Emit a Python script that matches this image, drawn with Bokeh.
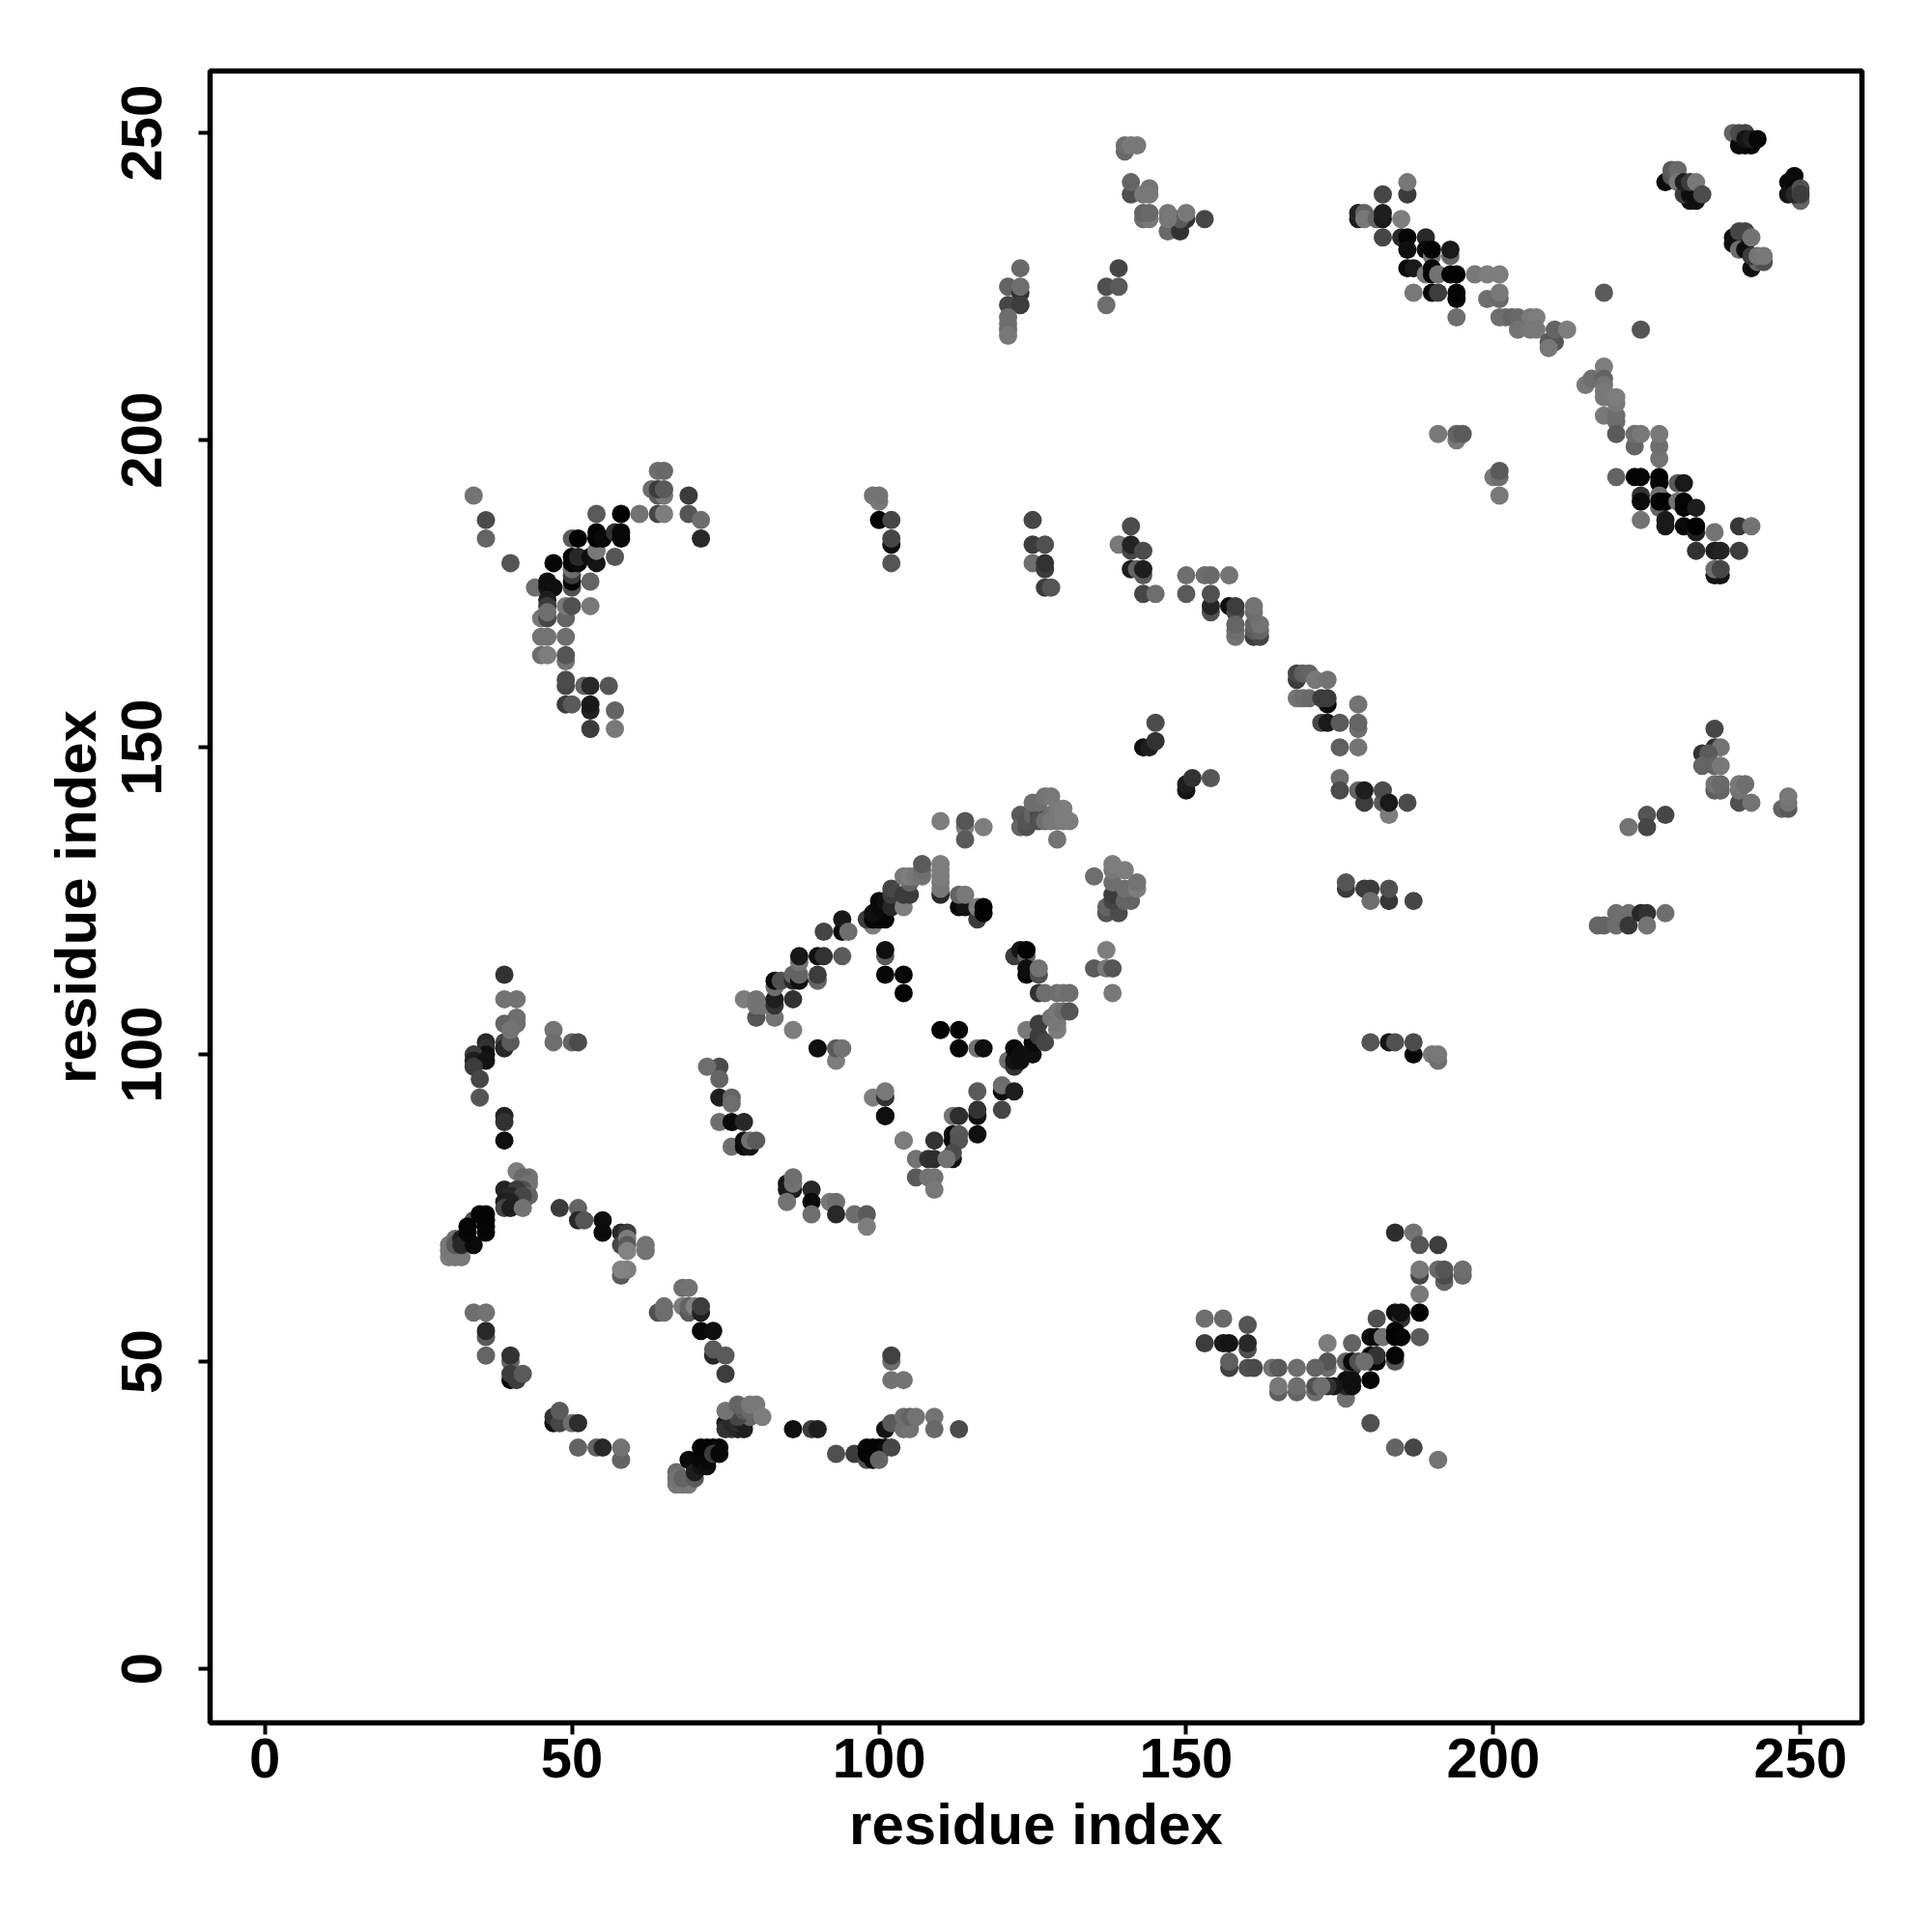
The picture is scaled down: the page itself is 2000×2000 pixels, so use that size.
from bokeh.embed import file_html
from bokeh.models import Range1d, FixedTicker
from bokeh.plotting import figure
from bokeh.resources import INLINE

# each point: (residue x, residue y, grey level)
c_39_86 = [(39,90,35),(39,89,50),(39,86,15),(41,81,125),(43,80,115),(42,80,105),(43,79,115),(42,78,80),(39,78,35),(41,78,60),(43,77,100),(40,77,40),(42,77,70),(39,76,30),(40,76,35),(39,75,70),(40,75,30),(42,75,115)]
c_34_113 = [(39,113,50),(39,109,115),(41,109,115),(41,106,110),(39,105,100),(41,105,110),(39,102,70),(36,102,40),(36,101,50),(36,100,15),(34,100,60),(34,99,30),(36,99,20),(34,98,60),(35,96,70),(35,93,85),(39,101,40),(40,102,90),(40,104,115),(47,104,115),(47,102,110),(50,102,100),(51,102,75)]
c_30_74 = [(30,69,120),(31,70,110),(30,67,125),(32,67,120),(31,67,120),(30,68,120),(31,69,90),(34,73,80),(32,70,30),(33,70,10),(32,69,40),(34,69,10),(33,71,8),(33,72,5),(35,74,5),(36,74,5),(36,73,5),(36,72,5),(36,71,5)]
c_48_75 = [(48,75,60),(51,75,100),(51,73,40),(52,73,85),(55,73,15),(55,71,10),(58,71,40),(59,71,60),(58,69,70),(59,70,125),(59,69,90),(59,68,130),(62,69,115),(62,68,115),(58,64,90),(59,65,125),(58,65,130)]
c_64_62 = [(68,62,110),(69,62,115),(64,58,80),(65,59,110),(65,58,110),(68,59,125),(69,58,90),(69,59,100),(70,59,130),(71,58,30),(71,59,60),(71,55,8),(73,55,15),(73,51,40),(73,52,90),(75,51,90),(75,48,60)]
c_34_58 = [(34,58,110),(36,58,115),(36,54,90),(36,55,40),(36,51,100),(40,50,100),(40,51,50),(40,47,10),(40,48,60),(41,47,60),(42,48,90)]
c_47_42 = [(47,40,15),(47,41,50),(48,40,70),(48,42,90),(50,40,110),(51,40,45),(51,36,100),(54,36,100),(55,36,40),(58,34,100),(58,36,115)]
c_67_36 = [(67,32,110),(67,30,120),(68,30,120),(69,30,120),(67,31,115),(68,31,100),(70,31,90),(70,33,15),(69,34,10),(70,32,30),(71,33,20),(71,34,8),(72,33,15),(72,34,8),(71,36,5),(72,36,5),(73,36,5),(74,36,10),(73,35,60),(74,35,8)]
c_75_43 = [(75,40,25),(76,39,70),(75,39,50),(77,39,40),(78,39,30),(76,40,40),(77,40,45),(78,40,30),(79,41,100),(77,41,70),(78,42,90),(79,42,105),(75,42,115),(77,43,100),(79,43,120),(80,43,120),(81,41,125)]
c_86_39 = [(86,39,15),(89,39,60),(90,39,30),(93,35,80),(96,35,60),(98,34,80),(98,36,5),(99,34,10),(98,35,5),(99,35,8),(99,36,5),(100,36,5),(101,36,10),(100,34,100),(102,36,70),(101,39,20),(102,40,90),(104,39,110),(105,39,115),(104,41,110),(105,41,100),(106,41,115),(109,41,115),(109,39,105),(113,39,75),(102,50,110),(102,51,65),(102,47,115),(104,47,115)]
c_74_98 = [(74,98,75),(72,98,110),(74,96,100),(74,93,30),(76,93,100),(76,92,110),(74,89,110),(76,89,10),(78,89,40),(76,85,110),(78,85,10),(79,85,20),(78,86,15),(79,86,110),(80,86,90)]
c_85_80 = [(85,79,20),(85,78,25),(86,78,30),(86,79,115),(86,80,110),(85,76,115),(89,78,40),(89,76,10),(89,74,110),(92,76,120),(93,76,110),(93,74,40),(96,74,110),(98,74,90),(98,72,125),(101,90,10),(104,86,125)]
c_110_138 = [(110,138,125),(114,137,125),(114,138,85),(117,137,125),(114,135,90),(123,139,90),(123,137,100),(124,137,80),(124,138,85),(125,139,100),(126,139,70),(126,138,80),(125,141,110),(126,141,110),(127,142,115),(128,142,120),(128,139,110),(127,138,110),(128,138,120),(129,138,120),(129,140,120),(130,140,125),(130,138,125),(131,138,125),(129,135,115)]
c_diag = [(78,109,125),(80,106,85),(80,109,115),(80,108,115),(81,108,115),(83,106,115),(83,108,50),(83,109,30),(83,111,110),(83,112,10),(84,112,80),(86,104,125),(86,109,50),(86,112,40),(86,113,100),(87,112,15),(87,113,100),(87,115,115),(87,116,25),(90,112,100),(90,113,60),(90,116,15),(91,116,50),(94,116,90),(91,120,70),(94,120,10),(94,122,25),(95,120,110)]
c_diag2 = [(99,121,125),(98,122,60),(99,122,5),(100,122,5),(101,122,5),(99,123,15),(100,124,10),(100,125,10),(101,125,15),(102,124,40),(102,126,60),(104,124,125),(102,127,70),(104,126,60),(105,126,60),(105,128,100),(104,129,120),(105,129,125),(106,129,120),(107,129,115),(107,130,110),(107,131,90),(110,126,40),(110,127,120),(110,128,120),(110,129,125),(110,130,125),(110,131,125)]
c_inner = [(101,116,90),(101,117,15),(101,113,8),(104,113,8),(104,110,3),(110,104,3),(113,104,5),(113,101,5),(116,101,115),(117,101,15),(90,101,15),(93,99,125),(93,101,90),(94,101,115),(99,93,125),(101,93,50),(101,94,120),(101,90,15)]
c_113_126 = [(113,124,8),(114,124,20),(113,126,100),(114,126,120),(116,122,60),(116,124,125),(117,123,3),(117,124,3),(122,116,60),(123,117,20),(124,116,100),(124,117,3),(124,113,5),(124,114,15),(126,113,80),(126,114,115),(126,110,50),(127,110,110),(129,110,110),(130,110,115),(131,110,110)]
c_121_100 = [(121,99,110),(122,98,50),(122,99,20),(122,101,8),(123,99,15),(123,100,15),(125,100,15),(125,102,10),(124,104,120),(126,103,60),(126,105,60),(127,102,70),(128,106,115),(129,104,125),(129,105,120),(129,107,120),(130,107,110),(131,107,85)]
c_135_129 = [(137,123,85),(137,124,100),(139,123,75),(138,125,70),(138,126,60),(141,125,100),(140,125,100),(140,127,110),(135,129,110),(138,128,110),(138,130,120),(138,131,125),(140,130,125),(142,127,125),(142,128,115),(137,117,125),(135,114,90),(137,114,120),(138,114,85),(138,110,120)]
c_116_94 = [(116,94,90),(120,94,15),(120,95,110),(122,94,30),(120,91,70),(116,90,15),(116,91,50),(112,90,115),(113,90,45),(116,87,15),(109,86,50),(112,87,10),(112,86,10),(113,87,90),(113,86,85),(112,83,15),(112,84,75),(104,86,125),(106,83,115),(108,83,50),(109,83,45),(111,83,115),(106,80,90),(108,80,115),(109,80,115),(109,78,120)]
c_34_191 = [(34,191,115),(36,187,75),(36,184,100),(40,180,85),(47,180,5),(44,176,110),(46,176,20),(46,177,15),(47,176,15),(46,174,30),(46,173,60),(45,171,120),(46,171,70),(46,172,110),(45,168,115),(46,168,115),(49,168,110),(45,165,110),(46,165,125),(49,164,115),(49,165,85)]
c_49_173 = [(49,171,100),(49,173,120),(50,173,80),(53,173,120),(53,177,100),(50,176,80),(50,177,5),(50,178,60),(50,179,110),(50,180,5),(50,181,5),(51,180,10),(51,181,40),(53,181,15),(54,180,20),(54,182,120),(50,184,90),(51,184,3),(54,184,3),(54,185,3),(55,184,10),(57,185,50),(58,184,8),(58,185,8),(57,181,85),(54,188,90),(58,188,3),(61,188,115)]
c_49_160 = [(49,160,70),(49,161,75),(52,160,100),(53,160,40),(56,160,85),(49,157,60),(50,157,90),(53,156,35),(53,157,25),(57,156,100),(53,153,60),(57,153,120)]
c_64_195 = [(64,195,110),(65,195,105),(63,192,110),(64,191,90),(65,191,120),(64,192,60),(65,192,90),(64,188,70),(65,188,125),(69,191,60),(69,188,85),(71,187,110),(71,184,40)]
c_99_191 = [(99,191,115),(100,190,120),(100,191,115),(100,187,5),(102,187,70),(102,183,15),(102,184,70),(102,180,85),(125,187,70),(125,183,60),(127,183,80),(125,180,110),(127,179,60),(127,180,50),(127,176,60),(128,176,85)]
c_140_248 = [(140,247,105),(140,248,110),(141,248,120),(142,248,120),(141,240,80),(141,242,100),(143,240,120),(144,241,115),(144,240,120),(143,236,110),(144,236,120),(143,237,100),(144,237,105),(147,234,105),(149,234,50),(150,236,50),(149,236,90),(147,236,120),(147,237,120),(150,237,120),(153,236,70)]
c_121_228 = [(139,228,70),(137,225,80),(139,225,90),(137,222,110),(123,228,105),(121,225,100),(123,224,50),(123,225,110),(121,222,70),(123,222,60),(121,220,110),(121,219,110),(121,218,110),(121,217,120)]
c_178_237 = [(178,236,30),(178,237,35),(179,237,100),(179,236,120),(181,236,100),(182,236,25),(182,237,30),(182,240,70),(186,240,60),(186,242,120),(185,236,125),(182,233,70),(185,233,40),(186,233,5),(189,233,40),(186,231,15),(189,231,10),(190,230,120),(190,231,5),(193,230,100),(193,231,25)]
c_186_228 = [(186,228,8),(187,228,25),(189,227,120),(190,227,3),(190,228,5),(191,227,115),(193,227,3),(194,227,3),(197,227,120),(199,227,125),(201,227,125),(187,224,120),(190,224,8),(191,224,60),(194,223,8),(194,224,5),(194,220,110),(199,223,110),(201,223,105),(201,224,120)]
c_201_220 = [(201,220,110),(202,220,110),(203,220,100),(204,220,105),(206,220,120),(207,220,125),(204,218,115),(206,218,120),(207,218,120),(209,216,90),(210,216,85),(209,215,120),(210,218,100),(212,218,125),(218,224,90),(224,218,85)]
c_218_212 = [(215,209,120),(216,210,110),(218,212,125),(218,210,100),(218,209,115),(218,208,120),(218,207,120),(218,204,120),(220,204,110),(220,203,110),(220,201,90),(220,206,120),(220,207,125),(223,199,100),(223,201,110),(224,201,120),(227,197,115),(227,199,110),(227,201,120),(191,201,120),(194,200,120),(194,201,100),(195,201,90),(200,194,120),(201,194,110),(201,195,90),(201,191,120)]
c_223_194 = [(220,194,100),(223,194,5),(224,194,5),(227,193,3),(227,194,3),(230,193,90),(231,193,25),(224,191,50),(224,190,10),(227,189,100),(227,191,110),(227,190,5),(228,190,3),(230,190,115),(231,189,8),(231,190,5),(233,189,30),(224,187,115),(228,186,25),(228,187,25),(231,186,10),(233,185,30),(233,186,3),(236,185,115),(240,186,55),(242,186,115),(233,182,50),(236,182,30),(237,182,35),(240,182,60),(236,178,20),(237,178,20),(236,179,110),(237,179,70)]
c_228_244 = [(228,242,10),(229,243,85),(229,244,90),(230,244,105),(230,242,120),(232,239,15),(233,239,15),(231,240,60),(232,240,15),(231,242,30),(232,242,60),(233,242,120),(234,240,75)]
c_239_250 = [(239,250,100),(240,248,10),(241,248,10),(242,248,8),(240,250,75),(241,250,70),(241,249,20),(242,249,30),(243,249,8),(248,242,10),(248,240,20),(249,243,10),(249,241,8),(250,239,100),(249,240,40),(250,241,80),(250,240,60)]
c_239_233 = [(239,232,15),(239,233,15),(240,232,20),(240,234,70),(241,234,70),(240,231,110),(241,231,15),(242,233,115),(242,228,15),(243,229,100),(244,229,80),(242,230,60),(243,230,115),(244,230,120)]
c_184_71 = [(184,71,45),(187,71,115),(188,69,85),(191,69,60),(188,64,70),(188,65,120),(192,63,100),(192,64,75),(191,65,105),(192,65,85),(195,64,105),(195,65,110),(188,61,120),(188,58,3),(184,58,15),(185,57,50),(185,58,15),(181,57,80),(180,54,15),(181,54,8),(182,54,115),(184,55,5),(184,54,3),(185,54,5),(188,54,90),(177,53,100),(173,53,125)]
c_171_51 = [(184,50,85),(184,51,5),(180,50,5),(180,51,5),(181,50,5),(181,51,50),(176,50,100),(177,49,70),(177,50,10),(178,50,80),(179,50,110),(173,49,110),(173,50,85),(180,47,5),(176,44,110),(176,46,40),(176,47,15),(177,46,15),(177,47,15),(171,45,110),(174,46,25),(173,46,50),(171,46,80),(172,46,110),(171,49,100)]
c_153_57 = [(168,45,100),(168,46,110),(168,49,110),(165,45,95),(165,46,120),(164,49,115),(165,49,90),(160,49,80),(161,49,75),(157,49,65),(157,50,95),(153,57,110),(156,57,105),(160,56,85),(153,53,60),(156,53,25),(157,53,20),(160,52,80),(160,53,40),(180,40,80),(184,36,100),(187,36,70),(191,34,115)]
c_141_186 = [(141,186,75),(139,183,120),(141,182,70),(141,183,35),(143,182,75),(141,179,30),(143,178,90),(142,179,100),(143,179,30),(143,175,70),(145,175,110)]
c_150_178 = [(150,178,110),(153,178,110),(154,178,105),(157,178,115),(150,175,90),(154,172,80),(154,173,35),(154,175,80),(157,173,15),(158,172,70),(158,173,60),(158,168,115),(158,169,110),(158,170,100),(161,168,60),(162,168,70),(161,169,90),(162,169,100),(161,170,100),(162,170,115),(161,172,110),(161,173,115)]
c_168_162 = [(168,161,60),(168,162,70),(169,162,95),(170,162,100),(171,161,120),(173,161,115),(173,157,10),(168,158,115),(169,158,110),(170,158,105),(172,158,60),(173,158,60),(178,157,115),(172,154,70),(173,154,25),(175,154,90),(178,153,110),(178,154,100),(175,150,95),(178,150,115)]
c_143_154 = [(145,154,75),(143,150,15),(144,150,30),(145,151,50),(150,143,20),(150,144,30),(151,145,50),(154,145,85)]
c_175_145 = [(175,145,110),(175,143,75),(178,143,100),(179,141,60),(179,143,30),(182,141,90),(182,143,75),(183,139,125),(183,141,25),(186,141,75)]
c_176_128 = [(176,127,60),(176,128,85),(179,127,60),(180,127,60),(180,125,110),(183,125,55),(183,127,80),(187,125,70),(180,102,85),(183,102,20),(184,102,80),(187,100,8),(187,102,75),(190,100,120),(191,99,110),(191,100,120)]
c_234_153 = [(236,153,70),(236,150,50),(237,150,115),(234,149,50),(235,149,90),(234,147,100),(236,147,100),(237,147,120),(236,143,95),(237,143,100),(236,144,115),(237,144,105),(240,141,80),(240,143,115),(240,144,120),(241,144,110),(242,141,115),(247,140,100),(248,140,90),(248,141,115),(248,142,120)]
c_217_139 = [(225,139,85),(228,139,70),(225,137,70),(222,137,115),(217,121,100),(218,121,100),(220,121,110),(220,123,110),(222,123,110),(222,121,55),(224,123,40),(225,123,50),(228,123,110),(225,121,115)]

clusters = [c_39_86, c_34_113, c_30_74, c_48_75, c_64_62, c_34_58, c_47_42, c_67_36, c_75_43, c_86_39, c_74_98, c_85_80,
            c_110_138, c_diag, c_diag2, c_inner, c_113_126, c_121_100, c_135_129, c_116_94, c_34_191, c_49_173,
            c_49_160, c_64_195, c_99_191, c_140_248, c_121_228, c_178_237, c_186_228, c_201_220, c_218_212,
            c_223_194, c_228_244, c_239_250, c_239_233, c_184_71, c_171_51, c_153_57, c_141_186, c_150_178,
            c_168_162, c_143_154, c_175_145, c_176_128, c_234_153, c_217_139]

tick_values = [0, 50, 100, 150, 200, 250]
axis_title = "residue index"

xs, ys, cols = [], [], []
for cl in clusters:
    for a, b, g in cl:
        xs.append(a); ys.append(b); cols.append(f"#{g:02x}{g:02x}{g:02x}")

p = figure(width=1984, height=1984, frame_width=1710, frame_height=1710,
           x_range=Range1d(-8.9, 260.0), y_range=Range1d(-8.8, 260.1),
           output_backend="svg", toolbar_location=None, background_fill_color="white",
           min_border_left=217, min_border_top=73, min_border_right=57, min_border_bottom=201)
p.grid.visible = False
p.outline_line_color = "black"
p.outline_line_width = 5.5

p.scatter(xs, ys, size=19, fill_color=cols, line_color=None, marker="circle")

for ax in (p.xaxis[0], p.yaxis[0]):
    ax.ticker = FixedTicker(ticks=tick_values)
    ax.axis_line_color = None
    ax.major_tick_in = 0
    ax.major_tick_out = 12
    ax.minor_tick_line_color = None
    ax.major_tick_line_width = 4
    ax.major_tick_line_color = "black"
    ax.major_label_text_font = "Liberation Sans"
    ax.major_label_text_font_style = "bold"
    ax.major_label_text_font_size = "58px"
    ax.major_label_text_color = "black"
    ax.axis_label = axis_title
    ax.axis_label_text_font = "Liberation Sans"
    ax.axis_label_text_font_style = "bold"
    ax.axis_label_text_font_size = "60px"
    ax.axis_label_text_color = "black"

p.yaxis[0].major_label_orientation = "vertical"
p.yaxis[0].major_label_text_font_size = "60px"
p.yaxis[0].major_label_standoff = 38
p.xaxis[0].major_label_standoff = 4
p.yaxis[0].axis_label_standoff = 12
p.xaxis[0].axis_label_standoff = 12

open("out.html", "w").write(file_html(p, INLINE))
